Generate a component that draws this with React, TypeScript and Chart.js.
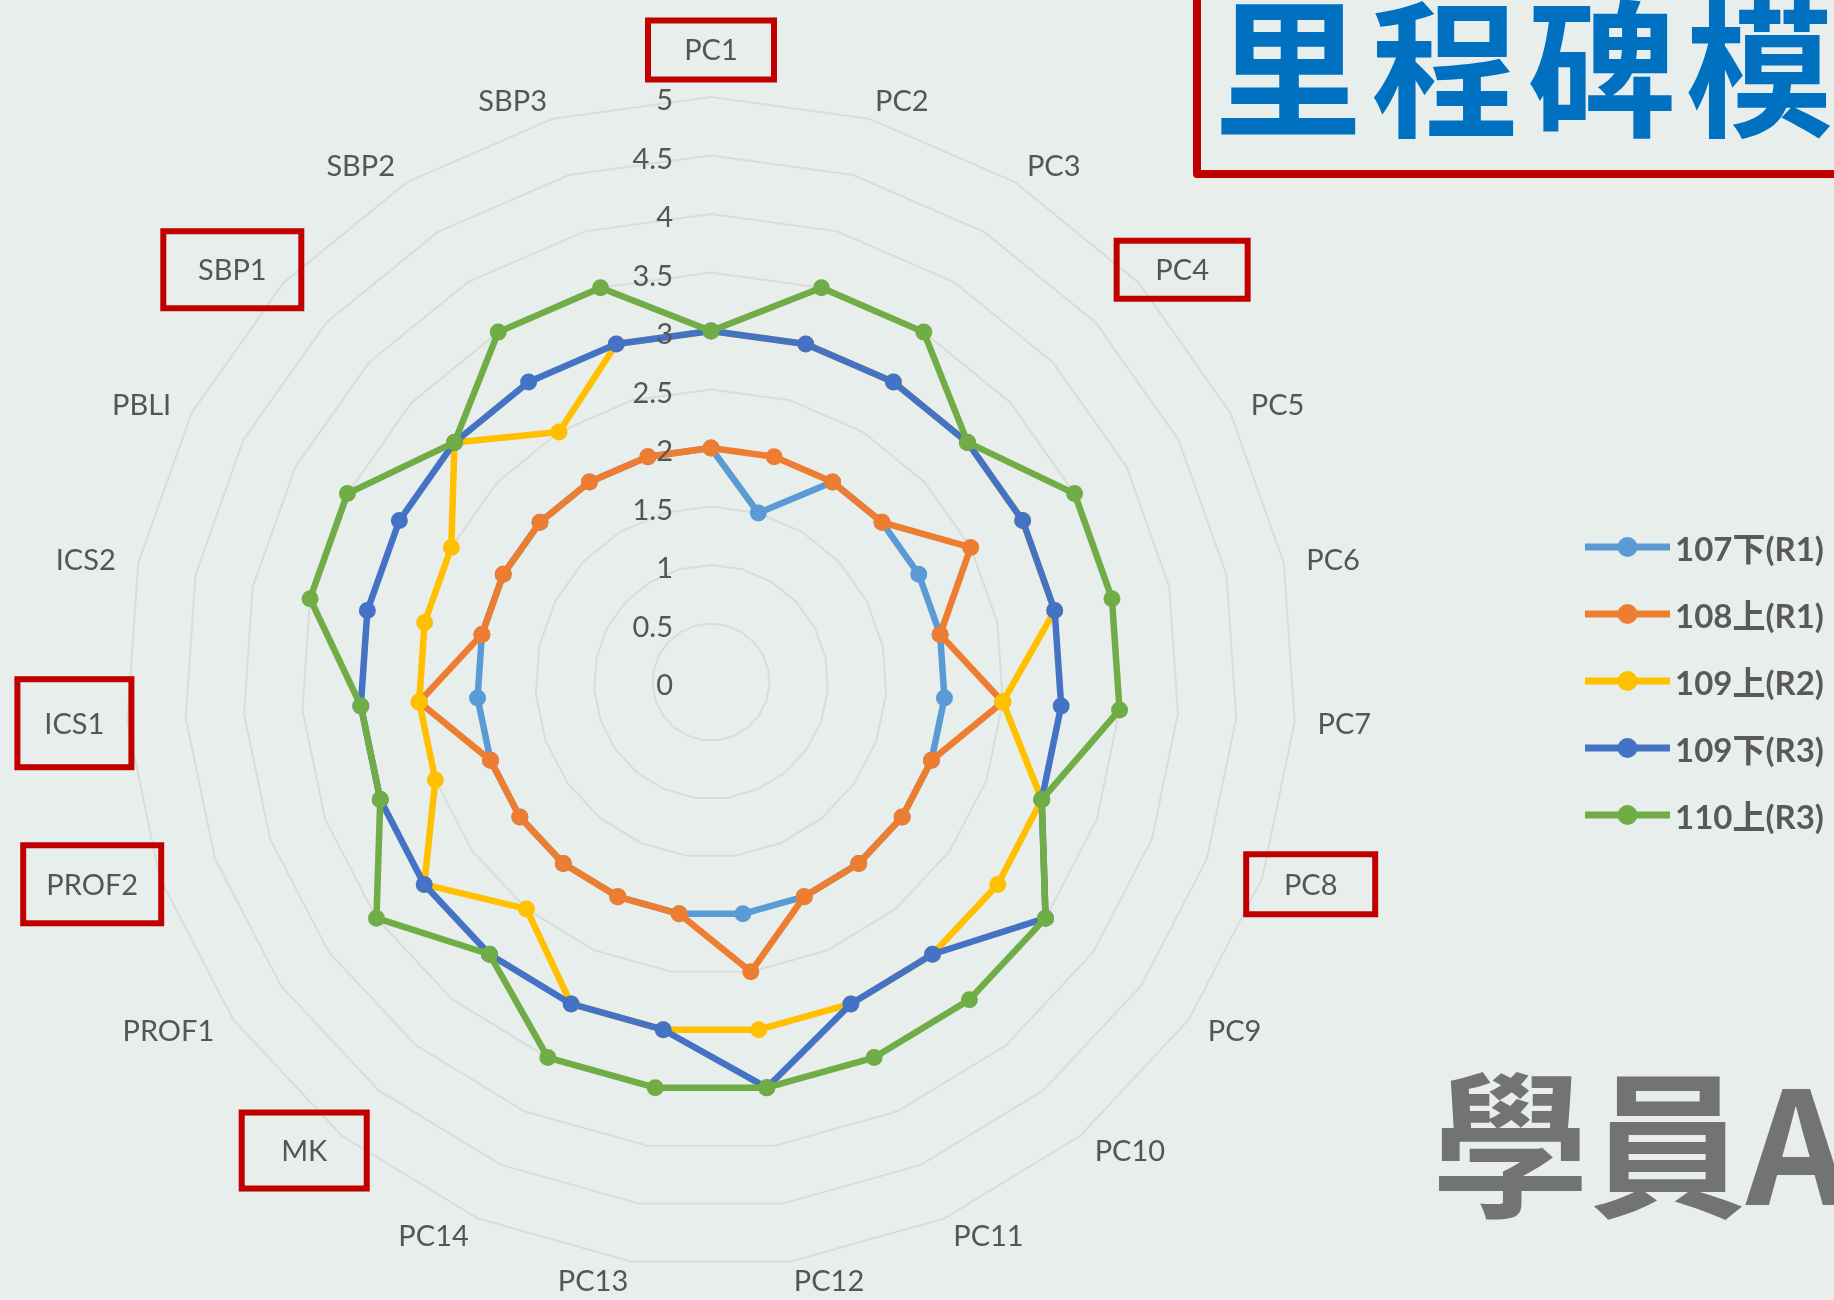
import React, { useEffect, useRef } from "react";
import { Chart, registerables } from "chart.js";

Chart.register(...registerables);

// ---------------- data ----------------
const CATEGORIES = [
  "PC1", "PC2", "PC3", "PC4", "PC5", "PC6", "PC7", "PC8", "PC9", "PC10", "PC11", "PC12",
  "PC13", "PC14", "MK", "PROF1", "PROF2", "ICS1", "ICS2", "PBLI", "SBP1", "SBP2", "SBP3",
];

const SERIES_NAMES = ["107下(R1)", "108上(R1)", "109上(R2)", "109下(R3)", "110上(R3)"];

const S107_LOWER_R1 = [2, 1.5, 2, 2, 2, 2, 2, 2, 2, 2, 2, 2, 2, 2, 2, 2, 2, 2, 2, 2, 2, 2, 2];
const S108_UPPER_R1 = [2, 2, 2, 2, 2.5, 2, 2.5, 2, 2, 2, 2, 2.5, 2, 2, 2, 2, 2, 2.5, 2, 2, 2, 2, 2];
const S109_UPPER_R2 = [3, 3, 3, 3, 3, 3, 2.5, 3, 3, 3, 3, 3, 3, 3, 2.5, 3, 2.5, 2.5, 2.5, 2.5, 3, 2.5, 3];
const S109_LOWER_R3 = [3, 3, 3, 3, 3, 3, 3, 3, 3.5, 3, 3, 3.5, 3, 3, 3, 3, 3, 3, 3, 3, 3, 3, 3];
const S110_UPPER_R3 = [3, 3.5, 3.5, 3, 3.5, 3.5, 3.5, 3, 3.5, 3.5, 3.5, 3.5, 3.5, 3.5, 3, 3.5, 3, 3, 3.5, 3.5, 3, 3.5, 3.5];

const SERIES_VALUES = [S107_LOWER_R1, S108_UPPER_R1, S109_UPPER_R2, S109_LOWER_R3, S110_UPPER_R3];

const TICK_VALUES = [0, 0.5, 1, 1.5, 2, 2.5, 3, 3.5, 4, 4.5, 5];
const TICK_LABELS = ["0", "0.5", "1", "1.5", "2", "2.5", "3", "3.5", "4", "4.5", "5"];

const HIGHLIGHTED = ["PC1", "PC4", "PC8", "MK", "PROF2", "ICS1", "SBP1"];

const TITLE_TEXT = "里程碑模";
const SUBTITLE_TEXT = "學員A";

// ---------------- styles ----------------
const BG = "#e8eeeb";
const SERIES_COLORS = ["#5B9BD5", "#ED7D31", "#FFC000", "#4472C4", "#70AD47"];
const TEXT_COLOR = "#555555";
const GRID_COLOR = "#d8ddda";
const BOX_COLOR = "#c00000";
const LABEL_FONT = "29px Lato, 'Noto Sans', sans-serif";
const LABEL_SIZE = 29;
const LABEL_H = 28;
const BOX_SIZES: Record<string, [number, number]> = {
  PC1: [132, 65],
  PC4: [137, 64],
  PC8: [135, 66],
  MK: [131, 82],
  PROF2: [144, 84],
  ICS1: [120, 94],
  SBP1: [144, 83],
};

const labelPlugin = {
  id: "excelStyleLabels",
  afterDraw(chart: any) {
    const scale = chart.scales.r;
    const ctx = chart.ctx as CanvasRenderingContext2D;
    const R = scale.drawingArea;
    const capHalf = LABEL_SIZE * 0.36;
    ctx.save();
    ctx.font = LABEL_FONT;
    ctx.fillStyle = TEXT_COLOR;
    ctx.textBaseline = "alphabetic";

    // value-axis tick labels, right aligned left of the vertical axis
    ctx.textAlign = "right";
    TICK_VALUES.forEach((v, i) => {
      const d = scale.getDistanceFromCenterForValue(v);
      ctx.fillText(TICK_LABELS[i], scale.xCenter - 38, scale.yCenter - d + 3 + capHalf);
    });

    // category labels
    ctx.textAlign = "center";
    CATEGORIES.forEach((lab, i) => {
      const w = ctx.measureText(lab).width;
      const a = scale.getIndexAngle(i);
      const sin = Math.sin(a);
      const cos = Math.cos(a);
      const px = scale.getPointPosition(i, R + 23);
      const py = scale.getPointPosition(i, R + 5);
      const sgn = Math.abs(sin) < 1e-3 ? 0 : Math.sign(sin);
      const cx = px.x + (sgn * w) / 2;
      let cy = py.y - (cos * LABEL_H) / 2;
      if (sgn === 0 && cos > 0) cy -= 28;
      ctx.fillStyle = TEXT_COLOR;
      ctx.fillText(lab, cx, cy + capHalf);
      if (HIGHLIGHTED.includes(lab)) {
        const [bw, bh] = BOX_SIZES[lab] || [w + 70, 70];
        ctx.strokeStyle = BOX_COLOR;
        ctx.lineWidth = 6;
        ctx.strokeRect(cx - bw / 2 + 3, cy - bh / 2 + 3, bw - 6, bh - 6);
      }
    });
    ctx.restore();
  },
};

function LegendMarker({ color }: { color: string }) {
  return (
    <svg width={85} height={24} style={{ display: "block", flex: "none" }}>
      <line x1={0} y1={12} x2={85} y2={12} stroke={color} strokeWidth={7} />
      <circle cx={42.5} cy={12} r={10} fill={color} />
    </svg>
  );
}

export default function App() {
  const ref = useRef<HTMLCanvasElement>(null);

  useEffect(() => {
    if (!ref.current) return;
    const n = SERIES_NAMES.length;
    const chart = new Chart(ref.current, {
      type: "radar",
      data: {
        labels: CATEGORIES,
        datasets: SERIES_NAMES.map((name, i) => ({
          label: name,
          data: SERIES_VALUES[i],
          borderColor: SERIES_COLORS[i],
          backgroundColor: SERIES_COLORS[i],
          pointBackgroundColor: SERIES_COLORS[i],
          pointBorderColor: SERIES_COLORS[i],
          pointRadius: 7.5,
          pointBorderWidth: 2,
          borderWidth: 6.5,
          borderJoinStyle: "round" as const,
          fill: false,
          order: n - i,
        })),
      },
      options: {
        responsive: false,
        maintainAspectRatio: false,
        animation: false,
        devicePixelRatio: 1,
        layout: { padding: { left: 126, right: 538, top: 97, bottom: 33 } },
        plugins: {
          legend: { display: false },
          tooltip: { enabled: false },
        },
        scales: {
          r: {
            min: 0,
            max: 5,
            ticks: { stepSize: 0.5, display: false },
            grid: { color: GRID_COLOR, lineWidth: 2, circular: false },
            angleLines: { display: false },
            pointLabels: { display: false },
          },
        },
      },
      plugins: [labelPlugin],
    });
    return () => chart.destroy();
  }, []);

  return (
    <div
      style={{
        position: "fixed",
        left: 0,
        top: 0,
        width: 1834,
        height: 1300,
        overflow: "hidden",
        background: BG,
      }}
    >
      <canvas
        ref={ref}
        width={1834}
        height={1300}
        style={{ position: "absolute", left: 0, top: 0, width: 1834, height: 1300 }}
      />
      {/* title box */}
      <div
        style={{
          position: "absolute",
          left: 1193,
          top: -40,
          width: 800,
          height: 218,
          boxSizing: "border-box",
          border: `8px solid ${BOX_COLOR}`,
          borderRadius: 4,
        }}
      />
      <div
        style={{
          position: "absolute",
          left: 1214,
          top: -13,
          fontFamily: "'Noto Sans CJK TC', sans-serif",
          fontWeight: 700,
          fontSize: 148,
          lineHeight: 1,
          letterSpacing: 9,
          color: "#0070C0",
          whiteSpace: "nowrap",
        }}
      >
        {TITLE_TEXT}
      </div>
      {/* subtitle */}
      <div
        style={{
          position: "absolute",
          left: 1432,
          top: 1058,
          fontFamily: "'Noto Sans CJK TC', sans-serif",
          fontWeight: 700,
          fontSize: 157,
          lineHeight: 1,
          color: "#737373",
          whiteSpace: "nowrap",
        }}
      >
        {SUBTITLE_TEXT}
      </div>
      {/* legend */}
      <div style={{ position: "absolute", left: 1585, top: 513 }}>
        {SERIES_NAMES.map((name, i) => (
          <div
            key={name}
            style={{ display: "flex", alignItems: "center", height: 67, whiteSpace: "nowrap" }}
          >
            <LegendMarker color={SERIES_COLORS[i]} />
            <span
              style={{
                marginLeft: 5,
                fontFamily: "Lato, 'Noto Sans CJK TC', sans-serif",
                fontWeight: 700,
                fontSize: 33,
                color: "#595959",
              }}
            >
              {name}
            </span>
          </div>
        ))}
      </div>
    </div>
  );
}
